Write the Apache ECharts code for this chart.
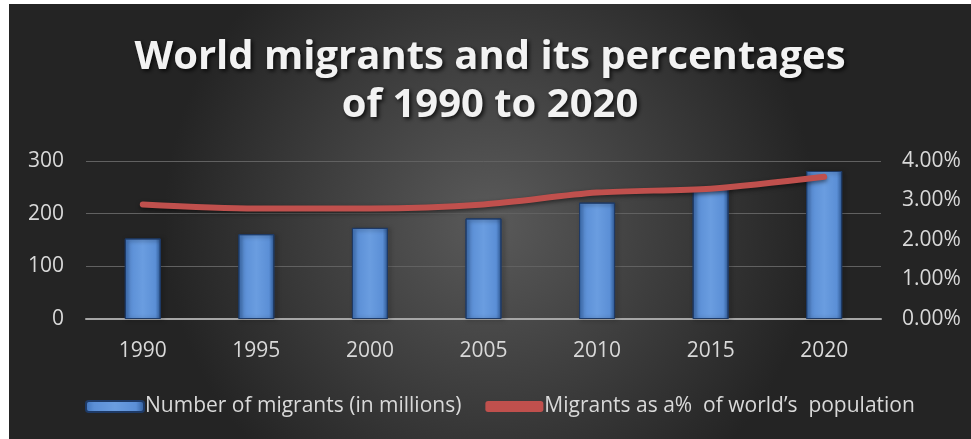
<!DOCTYPE html>
<html>
<head>
<meta charset="utf-8">
<script src="https://cdn.jsdelivr.net/npm/echarts@6/dist/echarts.min.js"></script>
<style>
  html, body { margin: 0; padding: 0; background: #ffffff; }
  #main { position: absolute; left: 9px; top: 4px; width: 962px; height: 435px; }
</style>
</head>
<body>
<div id="main"></div>
<script>
var years = ['1990', '1995', '2000', '2005', '2010', '2015', '2020'];
var migrants = [153, 161, 173, 191, 221, 248, 281];        // in millions
var percentOfWorld = [2.9, 2.8, 2.8, 2.9, 3.2, 3.3, 3.6];  // % of world population

var labelColor = '#d9d9d9';
var font = 'Open Sans';

var myChart = echarts.init(document.getElementById('main'));
var options = {
    backgroundColor: {
        type: 'radial', x: 0.5, y: 0.5, r: 0.75,
        colorStops: [
            { offset: 0, color: '#5a5a5a' },
            { offset: 1, color: '#242424' }
        ]
    },
    title: {
        text: 'World migrants and its percentages\nof 1990 to 2020',
        left: 'center',
        top: 25,
        textStyle: {
            color: '#f2f2f2',
            fontFamily: font,
            fontWeight: 'bold',
            fontSize: 40,
            lineHeight: 48,
            textShadowColor: 'rgba(0,0,0,0.8)',
            textShadowBlur: 4,
            textShadowOffsetX: 2,
            textShadowOffsetY: 2
        }
    },
    legend: {
        bottom: 17,
        left: 71,
        itemWidth: 58,
        itemHeight: 11,
        itemGap: 24,
        textStyle: { color: labelColor, fontFamily: font, fontSize: 21, padding: [0, 0, 0, -4] },
        data: [
            { name: 'Number of migrants (in millions)' },
            { name: 'Migrants as a%  of world\u2019s  population', icon: 'roundRect' }
        ]
    },
    grid: { left: 77, right: 90, top: 157, bottom: 120 },
    xAxis: {
        type: 'category',
        data: years,
        axisTick: { show: false },
        axisLine: { lineStyle: { color: '#a6a6a6', width: 2 } },
        axisLabel: { color: labelColor, fontFamily: font, fontSize: 21, margin: 22 }
    },
    yAxis: [
        {
            type: 'value', min: 0, max: 300, interval: 100,
            axisLine: { show: false }, axisTick: { show: false },
            splitLine: { lineStyle: { color: '#616161', width: 1 } },
            axisLabel: { color: labelColor, fontFamily: font, fontSize: 21, margin: 22 }
        },
        {
            type: 'value', min: 0, max: 4, interval: 1,
            axisLine: { show: false }, axisTick: { show: false },
            splitLine: { show: false },
            axisLabel: {
                color: labelColor, fontFamily: font, fontSize: 21, margin: 21,
                formatter: function (v) { return v.toFixed(2) + '%'; }
            }
        }
    ],
    series: [
        {
            name: 'Number of migrants (in millions)',
            type: 'bar',
            barWidth: 36,
            data: migrants,
            itemStyle: {
                color: {
                    type: 'linear', x: 0, y: 0, x2: 1, y2: 0,
                    colorStops: [
                        { offset: 0, color: '#3f72b8' },
                        { offset: 0.15, color: '#5b8fd6' },
                        { offset: 0.5, color: '#6a9de0' },
                        { offset: 0.85, color: '#5b8fd6' },
                        { offset: 1, color: '#2f5a96' }
                    ]
                },
                borderColor: '#1e3a66',
                borderWidth: 1,
                shadowColor: 'rgba(0,0,0,0.5)',
                shadowBlur: 4,
                shadowOffsetX: 2,
                shadowOffsetY: 1
            }
        },
        {
            name: 'Migrants as a%  of world\u2019s  population',
            type: 'line',
            yAxisIndex: 1,
            smooth: 0.3,
            symbol: 'none',
            data: percentOfWorld,
            lineStyle: {
                color: '#c0504d', width: 6, cap: 'round',
                shadowColor: 'rgba(0,0,0,0.5)', shadowBlur: 4, shadowOffsetY: 2
            },
            itemStyle: { color: '#c0504d' }
        }
    ]
};
myChart.setOption(options);
</script>
</body>
</html>
